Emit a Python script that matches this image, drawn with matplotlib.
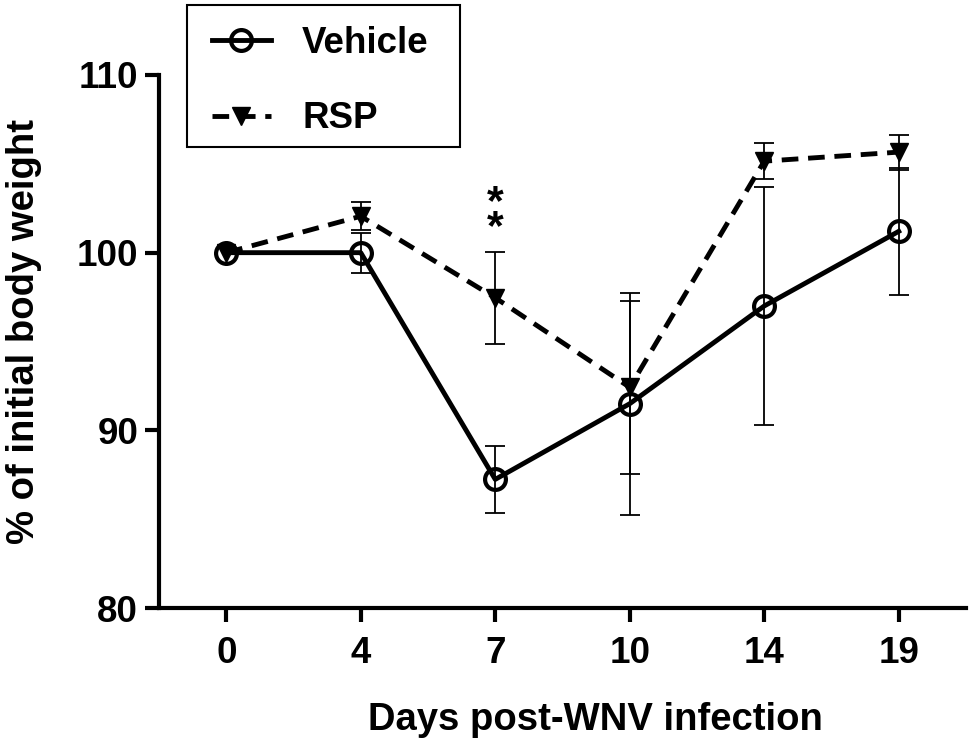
import numpy as np
import matplotlib
matplotlib.use("Agg")
import matplotlib.pyplot as plt
from matplotlib.patches import Rectangle

plt.rcParams['font.family'] = ['Liberation Sans', 'DejaVu Sans']
plt.rcParams['font.weight'] = 'bold'
plt.rcParams['lines.scale_dashes'] = False

# data
days = ['0', '4', '7', '10', '14', '19']
vehicle_mean = [100.0, 100.0, 87.24, 91.5, 97.0, 101.2]
vehicle_err = [0.0, 1.13, 1.9, 6.25, 6.7, 3.57]
rsp_mean = [100.0, 102.05, 97.46, 92.42, 105.15, 105.66]
rsp_err = [0.0, 0.8, 2.6, 4.85, 1.03, 0.99]

x = np.arange(len(days))

fig = plt.figure(figsize=(9.74, 7.43), dpi=100)
ax = fig.add_axes([159/974, 1-608/743, (966-159)/974, (608-75)/743])

# error bars first (thin), then the lines with markers
for mean, err in [(vehicle_mean, vehicle_err), (rsp_mean, rsp_err)]:
    mean = np.array(mean)
    err = np.array(err)
    m = err > 0
    ax.errorbar(x[m], mean[m], yerr=err[m], fmt='none', ecolor='black',
                elinewidth=1.3, capsize=7.5, capthick=1.3, zorder=2)

ax.plot(x, vehicle_mean, '-', color='black', lw=3.5, marker='o', ms=15,
        mfc='none', mec='black', mew=3, label='Vehicle', zorder=3)
ax.plot(x, rsp_mean, color='black', lw=3.5, linestyle=(0, (12, 7)),
        marker='v', ms=13, mfc='black', mec='black', mew=1, label='RSP', zorder=4)

# significance stars over day 7
ax.text(x[2], 100.76, '*\n*', ha='center', va='baseline', fontsize=31,
        fontweight='bold', linespacing=0.51)

ax.set_xlim(-0.5, 5.5)
ax.set_ylim(80, 110)
ax.set_yticks([80, 90, 100, 110])
ax.set_xticks(x)
ax.set_xticklabels(days)

for s in ['top', 'right']:
    ax.spines[s].set_visible(False)
for s in ['left', 'bottom']:
    ax.spines[s].set_linewidth(3)
ax.tick_params(axis='both', width=3, length=10, labelsize=26.5)
ax.tick_params(axis='x', pad=10)
ax.tick_params(axis='y', pad=5)

fig.text(24/974, 1-331/743, '% of initial body weight', rotation=90,
         ha='center', va='center', fontsize=27.5, fontweight='bold')
fig.text(595/974, 1-730/743, 'Days post-WNV infection', ha='center',
         va='baseline', fontsize=27.5, fontweight='bold')

# legend box drawn separately, entries placed inside it
fig.patches.append(Rectangle((187/974, 1-147/743), (460-187)/974, (147-5)/743,
                             transform=fig.transFigure, fill=False,
                             edgecolor='black', lw=1.5))
leg = ax.legend(loc='upper left', bbox_to_anchor=(212/974, 1-26/743),
                bbox_transform=fig.transFigure, borderaxespad=0, borderpad=0,
                frameon=False, fontsize=26.5, handlelength=1.6,
                handletextpad=0.85, labelspacing=1.1)

fig.savefig('out.png', dpi=100)
